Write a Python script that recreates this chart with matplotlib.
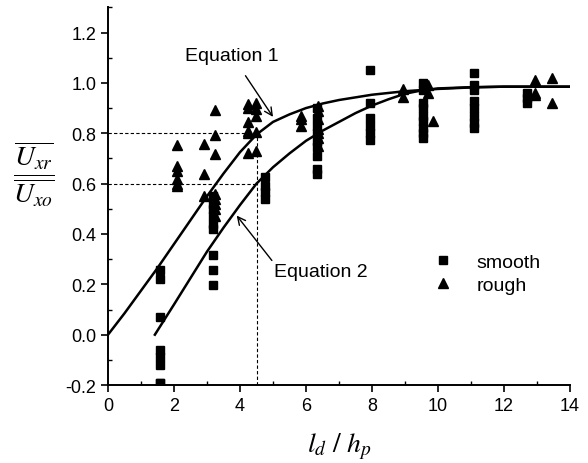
import matplotlib
matplotlib.use("Agg")
import matplotlib.pyplot as plt
from matplotlib.ticker import MultipleLocator

plt.rcParams['font.family'] = ['Liberation Sans', 'DejaVu Sans']
plt.rcParams['mathtext.fontset'] = 'stix'

smooth_x = [1.58]*8 + [3.19]*9 + [4.76]*4 + [6.34]*9 + [7.94]*6 + [9.55]*9 + [11.1]*8 + [12.7]*3
smooth_y = [0.255, 0.22, 0.07, -0.06, -0.09, -0.12, -0.19, -0.19,
            0.55, 0.52, 0.50, 0.47, 0.44, 0.42, 0.315, 0.255, 0.196,
            0.626, 0.59, 0.566, 0.537,
            0.90, 0.86, 0.83, 0.80, 0.77, 0.745, 0.71, 0.66, 0.64,
            1.05, 0.92, 0.86, 0.83, 0.80, 0.775,
            1.00, 0.97, 0.92, 0.90, 0.87, 0.85, 0.82, 0.80, 0.78,
            1.04, 0.99, 0.97, 0.93, 0.90, 0.87, 0.84, 0.82,
            0.96, 0.94, 0.92]

rough_x = ([2.1]*6 + [2.92]*3 + [3.24]*8 + [4.23]*6 + [4.48]*5 + [5.85]*3 + [6.37]*7
           + [8.94]*2 + [9.7]*2 + [9.85] + [12.95]*3 + [13.45]*2)
rough_y = [0.754, 0.67, 0.652, 0.62, 0.60, 0.59,
           0.758, 0.64, 0.55,
           0.894, 0.795, 0.718, 0.56, 0.54, 0.52, 0.50, 0.47,
           0.917, 0.90, 0.844, 0.81, 0.80, 0.72,
           0.92, 0.897, 0.87, 0.804, 0.73,
           0.87, 0.857, 0.83,
           0.91, 0.89, 0.857, 0.817, 0.80, 0.78, 0.75,
           0.975, 0.945,
           0.99, 0.96,
           0.85,
           1.01, 0.96, 0.95,
           1.02, 0.92]

# model curves
eq1_x = [0, 0.5, 1, 1.5, 2, 2.5, 3, 3.5, 4, 4.5, 5, 5.5, 6, 6.5, 7, 8, 9, 10, 11, 12, 14]
eq1_y = [0, 0.085, 0.175, 0.265, 0.36, 0.455, 0.55, 0.64, 0.725, 0.795, 0.845, 0.875,
         0.90, 0.918, 0.932, 0.953, 0.967, 0.976, 0.982, 0.985, 0.985]
eq2_x = [1.42, 2, 2.5, 3, 3.5, 4, 4.5, 5, 5.5, 6, 6.5, 7, 7.5, 8, 8.5, 9, 9.5, 10, 11, 12, 14]
eq2_y = [0.0, 0.12, 0.225, 0.33, 0.425, 0.515, 0.60, 0.665, 0.72, 0.77, 0.81, 0.845,
         0.88, 0.91, 0.935, 0.957, 0.97, 0.978, 0.983, 0.985, 0.985]

x_ref = 4.5
y_refs = [0.8, 0.6]

fig = plt.figure(figsize=(5.88, 4.64), dpi=100)
ax = fig.add_axes([0.1837, 0.168, 0.7857, 0.814])

ax.plot(eq1_x, eq1_y, color='black', lw=1.8)
ax.plot(eq2_x, eq2_y, color='black', lw=1.8)

for yr in y_refs:
    ax.plot([0, x_ref], [yr, yr], color='black', lw=0.8, ls=(0, (3, 2)))
ax.plot([x_ref, x_ref], [-0.2, max(y_refs)], color='black', lw=0.8, ls=(0, (3, 2)))

ax.plot(smooth_x, smooth_y, 's', color='black', ms=6, label='smooth')
ax.plot(rough_x, rough_y, '^', color='black', ms=7, label='rough')

ax.annotate('Equation 1', xy=(5.0, 0.865), xytext=(3.75, 1.11), ha='center', va='center',
            fontsize=14, arrowprops=dict(arrowstyle='->', color='black', lw=1.0,
                                         shrinkA=8, shrinkB=0))
ax.annotate('Equation 2', xy=(3.9, 0.473), xytext=(6.45, 0.25), ha='center', va='center',
            fontsize=14, arrowprops=dict(arrowstyle='->', color='black', lw=1.0,
                                         shrinkA=0, shrinkB=0, relpos=(0.0, 1.0)))

ax.set_xlim(0, 14)
ax.set_ylim(-0.2, 1.3)
ax.xaxis.set_major_locator(MultipleLocator(2))
ax.xaxis.set_minor_locator(MultipleLocator(1))
ax.yaxis.set_major_locator(MultipleLocator(0.2))
ax.yaxis.set_minor_locator(MultipleLocator(0.1))
ax.set_yticks([-0.2, 0, 0.2, 0.4, 0.6, 0.8, 1.0, 1.2])
ax.set_yticklabels(['-0.2', '0.0', '0.2', '0.4', '0.6', '0.8', '1.0', '1.2'])
ax.tick_params(which='major', direction='out', length=5, width=1.2, labelsize=13)
ax.tick_params(which='minor', direction='in', length=3, width=1.0)
for s in ['top', 'right']:
    ax.spines[s].set_visible(False)
for s in ['left', 'bottom']:
    ax.spines[s].set_linewidth(1.4)

ax.set_xlabel(r'$l_d\ /\ h_p$', fontsize=20)
ax.xaxis.set_label_coords(0.5, -0.12)
ax.set_ylabel(r'$\dfrac{\overline{U_{xr}}}{\overline{U_{xo}}}$', fontsize=20, rotation=0)
ax.yaxis.set_label_coords(-0.16, 0.47)

ax.legend(loc='center left', bbox_to_anchor=(0.655, 0.295), frameon=False, fontsize=14,
          handletextpad=1.0, labelspacing=0.3, markerscale=1.0, handlelength=1.5)

fig.savefig('out.png', dpi=100)
